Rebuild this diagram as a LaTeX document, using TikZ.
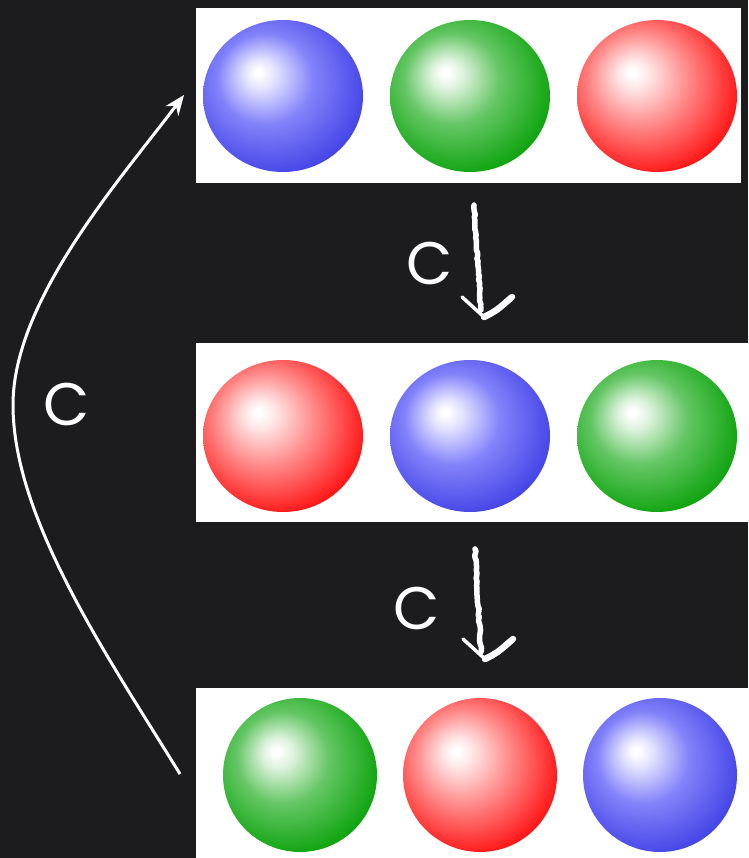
\documentclass[tikz,border=0pt]{standalone}
\usepackage{fontspec}
\setmainfont{Poppins}
\usetikzlibrary{arrows.meta,shapes.geometric,decorations.pathmorphing}
\definecolor{bg}{HTML}{1C1C1E}
\definecolor{bEdge}{RGB}{58,58,228}
\definecolor{bMid}{RGB}{130,130,250}
\definecolor{bLight}{RGB}{225,225,255}
\definecolor{gEdge}{RGB}{0,158,0}
\definecolor{gMid}{RGB}{100,198,100}
\definecolor{gLight}{RGB}{220,242,220}
\definecolor{rEdge}{RGB}{255,0,0}
\definecolor{rMid}{RGB}{255,140,140}
\definecolor{rLight}{RGB}{255,228,228}
\pgfdeclareradialshading{sphB}{\pgfpoint{-8bp}{8bp}}{color(0bp)=(white); color(1bp)=(white); color(5bp)=(bLight); color(15bp)=(bMid); color(32bp)=(bEdge); color(50bp)=(bEdge)}
\pgfdeclareradialshading{sphG}{\pgfpoint{-8bp}{8bp}}{color(0bp)=(white); color(1bp)=(white); color(5bp)=(gLight); color(15bp)=(gMid); color(32bp)=(gEdge); color(50bp)=(gEdge)}
\pgfdeclareradialshading{sphR}{\pgfpoint{-8bp}{8bp}}{color(0bp)=(white); color(1bp)=(white); color(5bp)=(rLight); color(15bp)=(rMid); color(32bp)=(rEdge); color(50bp)=(rEdge)}
\tikzset{
  panel/.style={rectangle, fill=white, draw=none, inner sep=0pt},
  ballA/.style={ellipse, draw=none, inner sep=0pt, minimum width=160pt, minimum height=152pt},
  ballC/.style={circle, draw=none, inner sep=0pt, minimum size=154pt},
  blueball/.style={shade, shading=sphB},
  greenball/.style={shade, shading=sphG},
  redball/.style={shade, shading=sphR},
  chalk/.style={draw=white, line width=5.5pt, line cap=round, line join=round,
    decorate, decoration={random steps, segment length=3pt, amplitude=0.8pt}},
  chalkthin/.style={draw=white, line width=3.5pt, line cap=round, line join=round},
  chalkthick/.style={draw=white, line width=6.5pt, line cap=round, line join=round},
  lbl/.style={text=white, font=\fontsize{60}{60}\selectfont, inner sep=0pt},
  bigarrow/.style={draw=white, line width=3pt, -{Stealth[length=20pt,width=16pt]}}
}
\begin{document}
\begin{tikzpicture}[x=1pt,y=-1pt]
\fill[bg] (0,0) rectangle (748,858);
\useasboundingbox (0,0) rectangle (748,858);
% panels
\node[panel, minimum width=545pt, minimum height=175pt] (p1) at (468.5,95.5) {};
\node[panel, minimum width=552pt, minimum height=179pt] (p2) at (472,432.5) {};
\node[panel, minimum width=552pt, minimum height=170pt] (p3) at (472,773) {};
% row 1
\node[ballA, blueball]  (b11) at (283,96) {};
\node[ballA, greenball] (b12) at (470,96) {};
\node[ballA, redball]   (b13) at (657,96) {};
% row 2
\node[ballA, redball]   (b21) at (283,436) {};
\node[ballA, blueball]  (b22) at (470,436) {};
\node[ballA, greenball] (b23) at (657,436) {};
% row 3
\node[ballC, greenball] (b31) at (300,775) {};
\node[ballC, redball]   (b32) at (480,775) {};
\node[ballC, blueball]  (b33) at (660,775) {};
% chalk arrows
\coordinate (a1s) at (474,205);
\coordinate (a1e) at (481,310);
\coordinate (a1v) at (484,317);
\coordinate (a2s) at (475,549);
\coordinate (a2e) at (481,652);
\coordinate (a2v) at (485,659);
\path[chalk] (a1s) -- (a1e);
\path[chalkthin] ([shift={(-22,-20)}]a1v) -- (a1v);
\path[chalkthick] (a1v) .. controls ([shift={(12,-6)}]a1v) .. ([shift={(28,-20)}]a1v);
\path[chalk] (a2s) -- (a2e);
\path[chalkthin] ([shift={(-22,-20)}]a2v) -- (a2v);
\path[chalkthick] (a2v) .. controls ([shift={(12,-6)}]a2v) .. ([shift={(28,-20)}]a2v);
\node[lbl] (c1) at (430,263) {C};
\node[lbl] (c2) at (417,608) {C};
% big curved arrow
\coordinate (ls) at (180,774);
\coordinate (lm) at (13,405);
\coordinate (le) at (184,95);
\path[bigarrow] (ls) .. controls (110,660) and (13,520) .. (lm) .. controls (13,300) and (120,180) .. (le);
\node[lbl] (c3) at (67,404) {C};
\end{tikzpicture}
\end{document}
